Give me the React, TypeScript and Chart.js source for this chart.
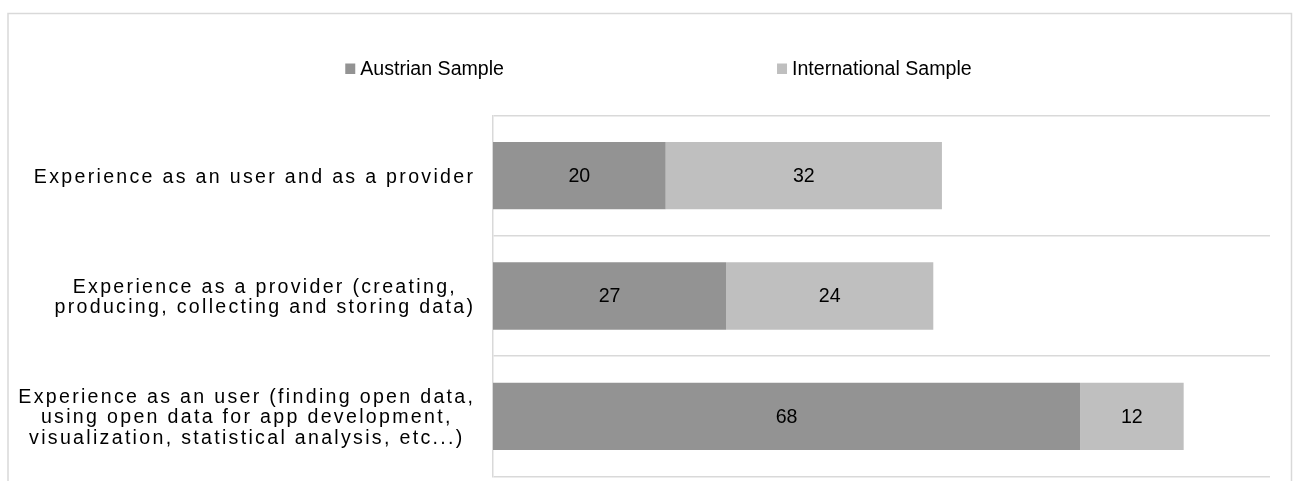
import React, { useEffect, useRef } from "react";
import { Chart, registerables } from "chart.js";

Chart.register(...registerables);

// ---- data ----
const categories: string[][] = [
  ["Experience as an user and as a provider"],
  ["Experience as a provider (creating,", "producing, collecting and storing data)"],
  [
    "Experience as an user (finding open data,",
    "using open data for app development,",
    "visualization, statistical analysis, etc...)",
  ],
];
const austrianValues = [20, 27, 68];
const internationalValues = [32, 24, 12];
const seriesNames = ["Austrian Sample", "International Sample"];
const seriesColors = ["#939393", "#bfbfbf"];
const xMin = 0;
const xMax = 90;

// ---- styling ----
const FONT = '"Liberation Sans", Arial, sans-serif';
const FONT_SIZE = 19.6;
const W = 1295;
const H = 481;
const GRID = "#d9d9d9";

const decorPlugin = {
  id: "decor",
  beforeDraw(chart: any) {
    const ctx = chart.ctx as CanvasRenderingContext2D;
    ctx.save();
    ctx.fillStyle = "#ffffff";
    ctx.fillRect(0, 0, chart.width, chart.height);
    ctx.strokeStyle = GRID;
    ctx.lineWidth = 1.5;
    ctx.strokeRect(8, 13.5, chart.width - 11.5, chart.height + 30);
    ctx.restore();
  },
  afterDraw(chart: any) {
    const ctx = chart.ctx as CanvasRenderingContext2D;
    const area = chart.chartArea;
    ctx.save();

    // data labels
    ctx.font = `${FONT_SIZE}px ${FONT}`;
    ctx.fillStyle = "#000000";
    ctx.textAlign = "center";
    ctx.textBaseline = "middle";
    chart.data.datasets.forEach((ds: any, di: number) => {
      const meta = chart.getDatasetMeta(di);
      meta.data.forEach((el: any, i: number) => {
        const cx = (el.x + el.base) / 2;
        ctx.fillText(String(ds.data[i]), cx, el.y + 1);
      });
    });

    // legend
    const box = 10;
    const boxGap = 5;
    const itemGap = 273;
    ctx.textAlign = "left";
    const widths = seriesNames.map((n) => ctx.measureText(n).width);
    const total =
      widths.reduce((a, b) => a + b, 0) + seriesNames.length * (box + boxGap) + itemGap * (seriesNames.length - 1);
    let x = chart.width / 2 + 11 - total / 2;
    const ly = 69;
    seriesNames.forEach((n, i) => {
      ctx.fillStyle = seriesColors[i];
      ctx.fillRect(x, ly - 5.5, box, box + 0.5);
      ctx.fillStyle = "#000000";
      ctx.fillText(n, x + box + boxGap, ly + 0.5);
      x += box + boxGap + widths[i] + itemGap;
    });

    // category labels (letter-spaced, lines centred within a right-aligned block)
    const yScale = chart.scales.y;
    const ls = 2.3;
    (ctx as any).letterSpacing = `${ls}px`;
    ctx.textBaseline = "alphabetic";
    ctx.textAlign = "center";
    ctx.fillStyle = "#000000";
    const lineH = 20.7;
    const capHalf = (FONT_SIZE * 0.716) / 2;
    const blockRight = area.left - 20;
    categories.forEach((lines, i) => {
      const cy = yScale.getPixelForValue(i);
      const lw = lines.map((l) => ctx.measureText(l).width - ls);
      const maxW = Math.max(...lw);
      const cx = blockRight - maxW / 2;
      lines.forEach((l, j) => {
        const by = cy + capHalf + (j - (lines.length - 1) / 2) * lineH;
        ctx.fillText(l, cx + ls / 2, by);
      });
    });
    (ctx as any).letterSpacing = "0px";
    ctx.restore();
  },
};

export default function App() {
  const ref = useRef<HTMLCanvasElement | null>(null);

  useEffect(() => {
    if (!ref.current) return;
    const chart = new Chart(ref.current, {
      type: "bar",
      data: {
        labels: categories.map((c) => c.join(" ")),
        datasets: [
          {
            label: seriesNames[0],
            data: austrianValues,
            backgroundColor: seriesColors[0],
            borderWidth: 0,
            barPercentage: 0.56,
            categoryPercentage: 1,
          },
          {
            label: seriesNames[1],
            data: internationalValues,
            backgroundColor: seriesColors[1],
            borderWidth: 0,
            barPercentage: 0.56,
            categoryPercentage: 1,
          },
        ],
      },
      options: {
        indexAxis: "y",
        animation: false,
        responsive: false,
        devicePixelRatio: 1,
        layout: { padding: { left: 493, right: 25, top: 115.5, bottom: 4.5 } },
        plugins: {
          legend: { display: false },
          tooltip: { enabled: false },
        },
        scales: {
          x: {
            stacked: true,
            min: xMin,
            max: xMax,
            display: false,
          },
          y: {
            stacked: true,
            display: true,
            ticks: { display: false },
            grid: {
              display: true,
              color: GRID,
              lineWidth: 1.5,
              drawTicks: false,
              offset: true,
            },
            border: { display: true, color: GRID, width: 1.5 },
          },
        },
      },
      plugins: [decorPlugin],
    });
    return () => chart.destroy();
  }, []);

  return (
    <canvas
      ref={ref}
      width={W}
      height={H}
      style={{ position: "fixed", left: 0, top: 0, width: W, height: H, display: "block" }}
    />
  );
}
